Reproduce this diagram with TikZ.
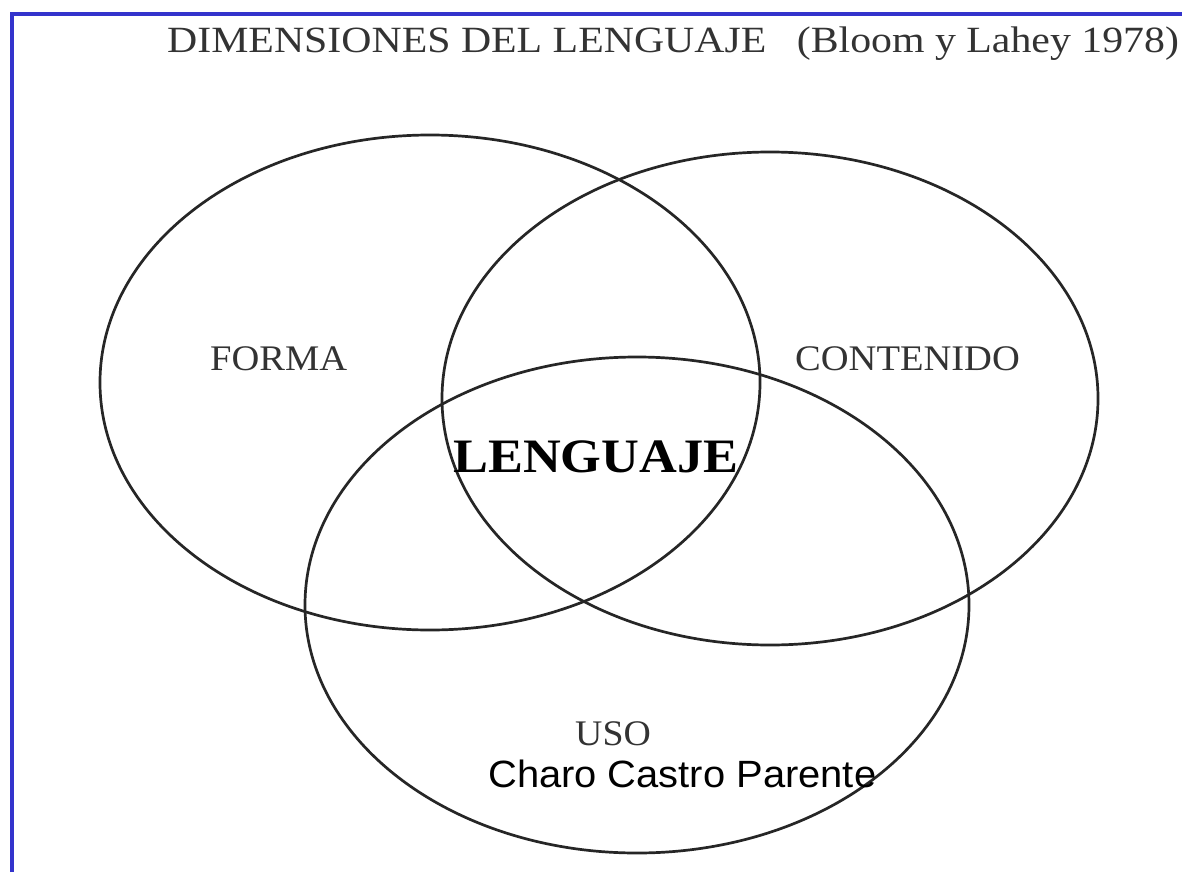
\documentclass[tikz,border=0pt]{standalone}
\usepackage{fontspec}
\setmainfont{Liberation Serif}
\newfontfamily\arialfont{Liberation Sans}
\usetikzlibrary{shapes.geometric}
\definecolor{frameblue}{HTML}{3333CC}
\tikzset{
  venn/.style={draw=black!85, line width=2.7pt, ellipse, inner sep=0pt, fill=none},
  lbl/.style={anchor=base west, inner sep=0pt, text=black!80},
}
\begin{document}
\begin{tikzpicture}[x=1pt,y=-1pt]
\useasboundingbox (0,0) rectangle (1182,872);
\fill[white] (0,0) rectangle (1182,872);
% frame
\draw[frameblue, line width=4pt] (12,872) -- (12,14) -- (1182,14);
% ellipses
\node[venn, minimum width=660pt, minimum height=495pt] (forma) at (430,382.5) {};
\node[venn, minimum width=656pt, minimum height=493pt] (contenido) at (770,398.5) {};
\node[venn, minimum width=664pt, minimum height=496pt] (uso) at (637,605) {};
% texts
\node[lbl] (title) at (167,53) {\fontsize{37}{40}\selectfont\scalebox{1.13}[1]{DIMENSIONES DEL LENGUAJE\hspace{27pt}(Bloom y Lahey 1978)}};
\node[lbl] (tforma) at (210,370) {\fontsize{36}{40}\selectfont\scalebox{1.07}[1]{FORMA}};
\node[lbl] (tcont) at (795,370) {\fontsize{36}{40}\selectfont\scalebox{1.07}[1]{CONTENIDO}};
\node[lbl, text=black] (tleng) at (453,472) {\fontsize{48}{52}\selectfont\bfseries\scalebox{1.09}[1]{LENGUAJE}};
\node[lbl] (tuso) at (575,745) {\fontsize{36}{40}\selectfont\scalebox{1.05}[1]{USO}};
\node[lbl, text=black] (author) at (488,787) {\arialfont\fontsize{38}{42}\selectfont\scalebox{1.05}[1]{Charo Castro Parente}};
\end{tikzpicture}
\end{document}
